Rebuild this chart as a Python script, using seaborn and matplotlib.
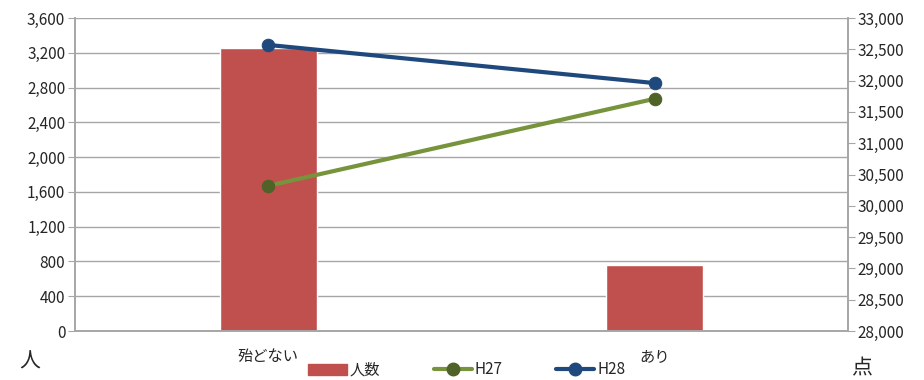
import numpy as np
import pandas as pd
import matplotlib
matplotlib.use("Agg")
import matplotlib.pyplot as plt
import seaborn as sns
from matplotlib.patches import Patch
from matplotlib.lines import Line2D
from matplotlib.ticker import FuncFormatter

# データ
categories = ["殆どない", "あり"]
ninzu = [3260, 760]
h27 = [30320, 31710]
h28 = [32570, 31960]

sns.set_style("white")
plt.rcParams['font.family'] = ['Noto Sans CJK JP', 'DejaVu Sans']

bar_color = "#C0504D"
h27_line, h27_mark = "#77933C", "#4F6228"
h28_line, h28_mark = "#1F497D", "#1F497D"
grid_color = "#A6A6A6"

fig = plt.figure(figsize=(9.24, 3.8), dpi=100)
ax = fig.add_axes([75 / 924, 49 / 380, 773 / 924, 313 / 380])

df = pd.DataFrame({"cat": categories, "n": ninzu})
sns.barplot(data=df, x="cat", y="n", color=bar_color, saturation=1, width=0.25, ax=ax, zorder=2)
ax.set_xlim(-0.5, 1.5)
ax.set_ylim(0, 3600)
ax.set_yticks(np.arange(0, 3601, 400))
ax.yaxis.set_major_formatter(FuncFormatter(lambda v, p: f"{int(v):,}"))
ax.grid(axis="y", color=grid_color, linewidth=1, zorder=0)
ax.set_axisbelow(True)
ax.set_xlabel("")
ax.set_ylabel("")

ax2 = ax.twinx()
pos = np.arange(len(categories))
sns.lineplot(x=pos, y=h27, ax=ax2, color=h27_line, linewidth=3, marker="o", markersize=9,
             markerfacecolor=h27_mark, markeredgecolor=h27_mark, zorder=3)
sns.lineplot(x=pos, y=h28, ax=ax2, color=h28_line, linewidth=3, marker="o", markersize=9,
             markerfacecolor=h28_mark, markeredgecolor=h28_mark, zorder=3)
ax2.set_ylim(28000, 33000)
ax2.set_yticks(np.arange(28000, 33001, 500))
ax2.yaxis.set_major_formatter(FuncFormatter(lambda v, p: f"{int(v):,}"))
ax2.set_xlim(-0.5, 1.5)

for a in (ax, ax2):
    a.spines["top"].set_visible(False)
    for s in ["left", "right", "bottom"]:
        a.spines[s].set_color(grid_color)
        a.spines[s].set_linewidth(1.2)
    a.tick_params(axis="y", length=5, color=grid_color, labelsize=11, pad=2, direction="out")

# カテゴリ境界の目盛
ax.set_xticks([-0.5, 0.5, 1.5], minor=True)
ax.tick_params(axis="x", which="minor", length=6, color=grid_color, direction="out")
ax.tick_params(axis="x", which="major", length=0, labelsize=11, pad=12)

fig.text(30 / 924, 1 - 362 / 380, "人", fontsize=15, ha="center", va="center")
fig.text(862 / 924, 1 - 368 / 380, "点", fontsize=15, ha="center", va="center")

handles = [
    Patch(facecolor=bar_color, edgecolor=bar_color),
    Line2D([0], [0], color=h27_line, lw=3, marker="o", markersize=9,
           markerfacecolor=h27_mark, markeredgecolor=h27_mark),
    Line2D([0], [0], color=h28_line, lw=3, marker="o", markersize=9,
           markerfacecolor=h28_mark, markeredgecolor=h28_mark),
]
fig.legend(handles, ["人数", "H27", "H28"], loc="center", bbox_to_anchor=(467 / 924, 1 - 370 / 380),
           ncol=3, frameon=False, fontsize=11, handlelength=2.5, columnspacing=3.5,
           handletextpad=0.2, borderpad=0)

fig.savefig("out.png", dpi=100)
